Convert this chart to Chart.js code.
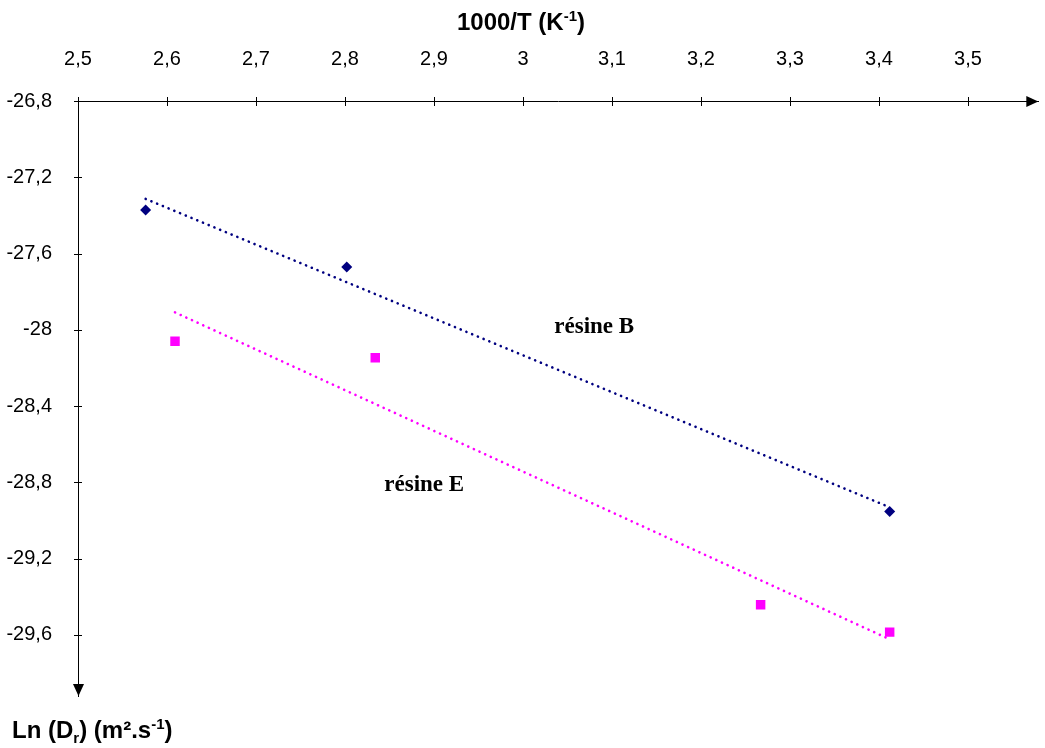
<!DOCTYPE html>
<html>
<head>
<meta charset="utf-8">
<script src="https://cdn.jsdelivr.net/npm/chart.js@4"></script>
<style>
  html, body { margin: 0; padding: 0; background: #fff; }
  #wrap { width: 1045px; height: 748px; }
</style>
</head>
<body>
<div id="wrap"><canvas id="chart" width="1045" height="748"></canvas></div>
<script>
// values
const invTB = [2.576, 2.802, 3.412];
const lnDB = [-27.372, -27.670, -28.952];
const invTE = [2.609, 2.834, 3.267, 3.412];
const lnDE = [-28.06, -28.146, -29.442, -29.585];
const xTicks = [2.5, 2.6, 2.7, 2.8, 2.9, 3.0, 3.1, 3.2, 3.3, 3.4, 3.5];
const yTicks = [-26.8, -27.2, -27.6, -28.0, -28.4, -28.8, -29.2, -29.6];

const sans = "Arial, 'Liberation Sans', sans-serif";
const serif = "'Times New Roman', 'Liberation Serif', serif";

// linear trendline (least squares) over a series, from first to last x
function trend(xs, ys) {
  const n = xs.length;
  const mx = xs.reduce((a, b) => a + b, 0) / n;
  const my = ys.reduce((a, b) => a + b, 0) / n;
  let sxy = 0, sxx = 0;
  for (let i = 0; i < n; i++) {
    sxy += (xs[i] - mx) * (ys[i] - my);
    sxx += (xs[i] - mx) * (xs[i] - mx);
  }
  const k = sxy / sxx;
  const x0 = Math.min(...xs), x1 = Math.max(...xs);
  return [{ x: x0, y: my + k * (x0 - mx) }, { x: x1, y: my + k * (x1 - mx) }];
}

const pts = (xs, ys) => xs.map((x, i) => ({ x: x, y: ys[i] }));
const fmt = v => String(Math.round(v * 10) / 10).replace('.', ',');

// draws text with sub/superscript runs: [text, shift] (shift: 0 normal, 1 sup, -1 sub)
function richText(ctx, runs, x, y, size, align) {
  const big = 'bold ' + size + 'px ' + sans;
  const small = 'bold ' + Math.round(size * 0.62) + 'px ' + sans;
  let w = 0;
  runs.forEach(r => { ctx.font = r[1] ? small : big; w += ctx.measureText(r[0]).width; });
  let cx = align === 'center' ? x - w / 2 : x;
  ctx.textAlign = 'left';
  ctx.textBaseline = 'alphabetic';
  runs.forEach(r => {
    ctx.font = r[1] ? small : big;
    const dy = r[1] === 1 ? -size * 0.38 : r[1] === -1 ? size * 0.2 : 0;
    ctx.fillText(r[0], cx, y + dy);
    cx += ctx.measureText(r[0]).width;
  });
}

const decor = {
  id: 'decor',
  afterDraw(chart) {
    const { ctx, chartArea: a, scales: { x, y } } = chart;
    ctx.save();
    ctx.strokeStyle = '#000';
    ctx.fillStyle = '#000';
    ctx.lineWidth = 1;
    // crossing tick marks
    ctx.beginPath();
    x.ticks.forEach(t => {
      const px = Math.round(x.getPixelForValue(t.value)) + 0.5;
      ctx.moveTo(px, a.top - 4); ctx.lineTo(px, a.top + 5);
    });
    y.ticks.forEach(t => {
      const py = Math.round(y.getPixelForValue(t.value)) + 0.5;
      ctx.moveTo(a.left - 4, py); ctx.lineTo(a.left + 4, py);
    });
    ctx.stroke();
    // arrow heads
    const ay = Math.round(a.top) + 0.5, ax = Math.round(a.left) + 0.5;
    ctx.beginPath();
    ctx.moveTo(a.right, ay); ctx.lineTo(a.right - 12, ay - 5.5); ctx.lineTo(a.right - 12, ay + 5.5);
    ctx.closePath(); ctx.fill();
    ctx.beginPath();
    ctx.moveTo(ax, a.bottom); ctx.lineTo(ax - 5.5, a.bottom - 12); ctx.lineTo(ax + 5.5, a.bottom - 12);
    ctx.closePath(); ctx.fill();
    // axis titles
    richText(ctx, [['1000/T (K', 0], ['-1', 1], [')', 0]], 521, 30, 24, 'center');
    richText(ctx, [['Ln (D', 0], ['r', -1], [') (m\u00b2.s', 0], ['-1', 1], [')', 0]], 12, 738, 24, 'left');
    // series labels
    ctx.font = 'bold 23px ' + serif;
    ctx.textAlign = 'center';
    ctx.textBaseline = 'alphabetic';
    ctx.fillText('r\u00e9sine B', x.getPixelForValue(3.08), y.getPixelForValue(-28.018));
    ctx.fillText('r\u00e9sine E', x.getPixelForValue(2.889), y.getPixelForValue(-28.843));
    ctx.restore();
  }
};

new Chart(document.getElementById('chart'), {
  type: 'scatter',
  data: {
    datasets: [
      {
        label: 'résine B',
        data: pts(invTB, lnDB),
        pointStyle: 'rectRot',
        pointRadius: 5.5,
        backgroundColor: '#000080',
        borderColor: '#000080',
        borderWidth: 0
      },
      {
        label: 'résine E',
        data: pts(invTE, lnDE),
        pointStyle: 'rect',
        pointRadius: 6.7,
        backgroundColor: '#ff00ff',
        borderColor: '#ff00ff',
        borderWidth: 0
      },
      {
        label: 'tendance B',
        data: trend(invTB, lnDB),
        showLine: true,
        pointRadius: 0,
        borderColor: '#000080',
        borderWidth: 2.6,
        borderDash: [0.1, 6.1],
        borderCapStyle: 'round'
      },
      {
        label: 'tendance E',
        data: trend(invTE, lnDE),
        showLine: true,
        pointRadius: 0,
        borderColor: '#ff00ff',
        borderWidth: 2.6,
        borderDash: [0.1, 6.1],
        borderCapStyle: 'round'
      }
    ]
  },
  options: {
    responsive: false,
    animation: false,
    layout: { padding: { left: 0, top: 0, right: 3, bottom: 52 } },
    plugins: { legend: { display: false }, tooltip: { enabled: false } },
    scales: {
      x: {
        type: 'linear',
        position: 'top',
        min: 2.5,
        max: 3.579,
        grid: { display: false },
        border: { display: true, color: '#000', width: 1 },
        ticks: {
          color: '#000',
          font: { family: sans, size: 20 },
          padding: 22,
          callback: v => fmt(v)
        },
        afterBuildTicks: s => { s.ticks = xTicks.map(v => ({ value: v })); },
        afterFit: s => { s.height = 101; }
      },
      y: {
        type: 'linear',
        min: -29.92,
        max: -26.8,
        grid: { display: false },
        border: { display: true, color: '#000', width: 1 },
        ticks: {
          color: '#000',
          font: { family: sans, size: 20 },
          padding: 18,
          callback: v => fmt(v)
        },
        afterBuildTicks: s => { s.ticks = yTicks.map(v => ({ value: v })); },
        afterFit: s => { s.width = 78; }
      }
    }
  },
  plugins: [decor]
});
</script>
</body>
</html>
